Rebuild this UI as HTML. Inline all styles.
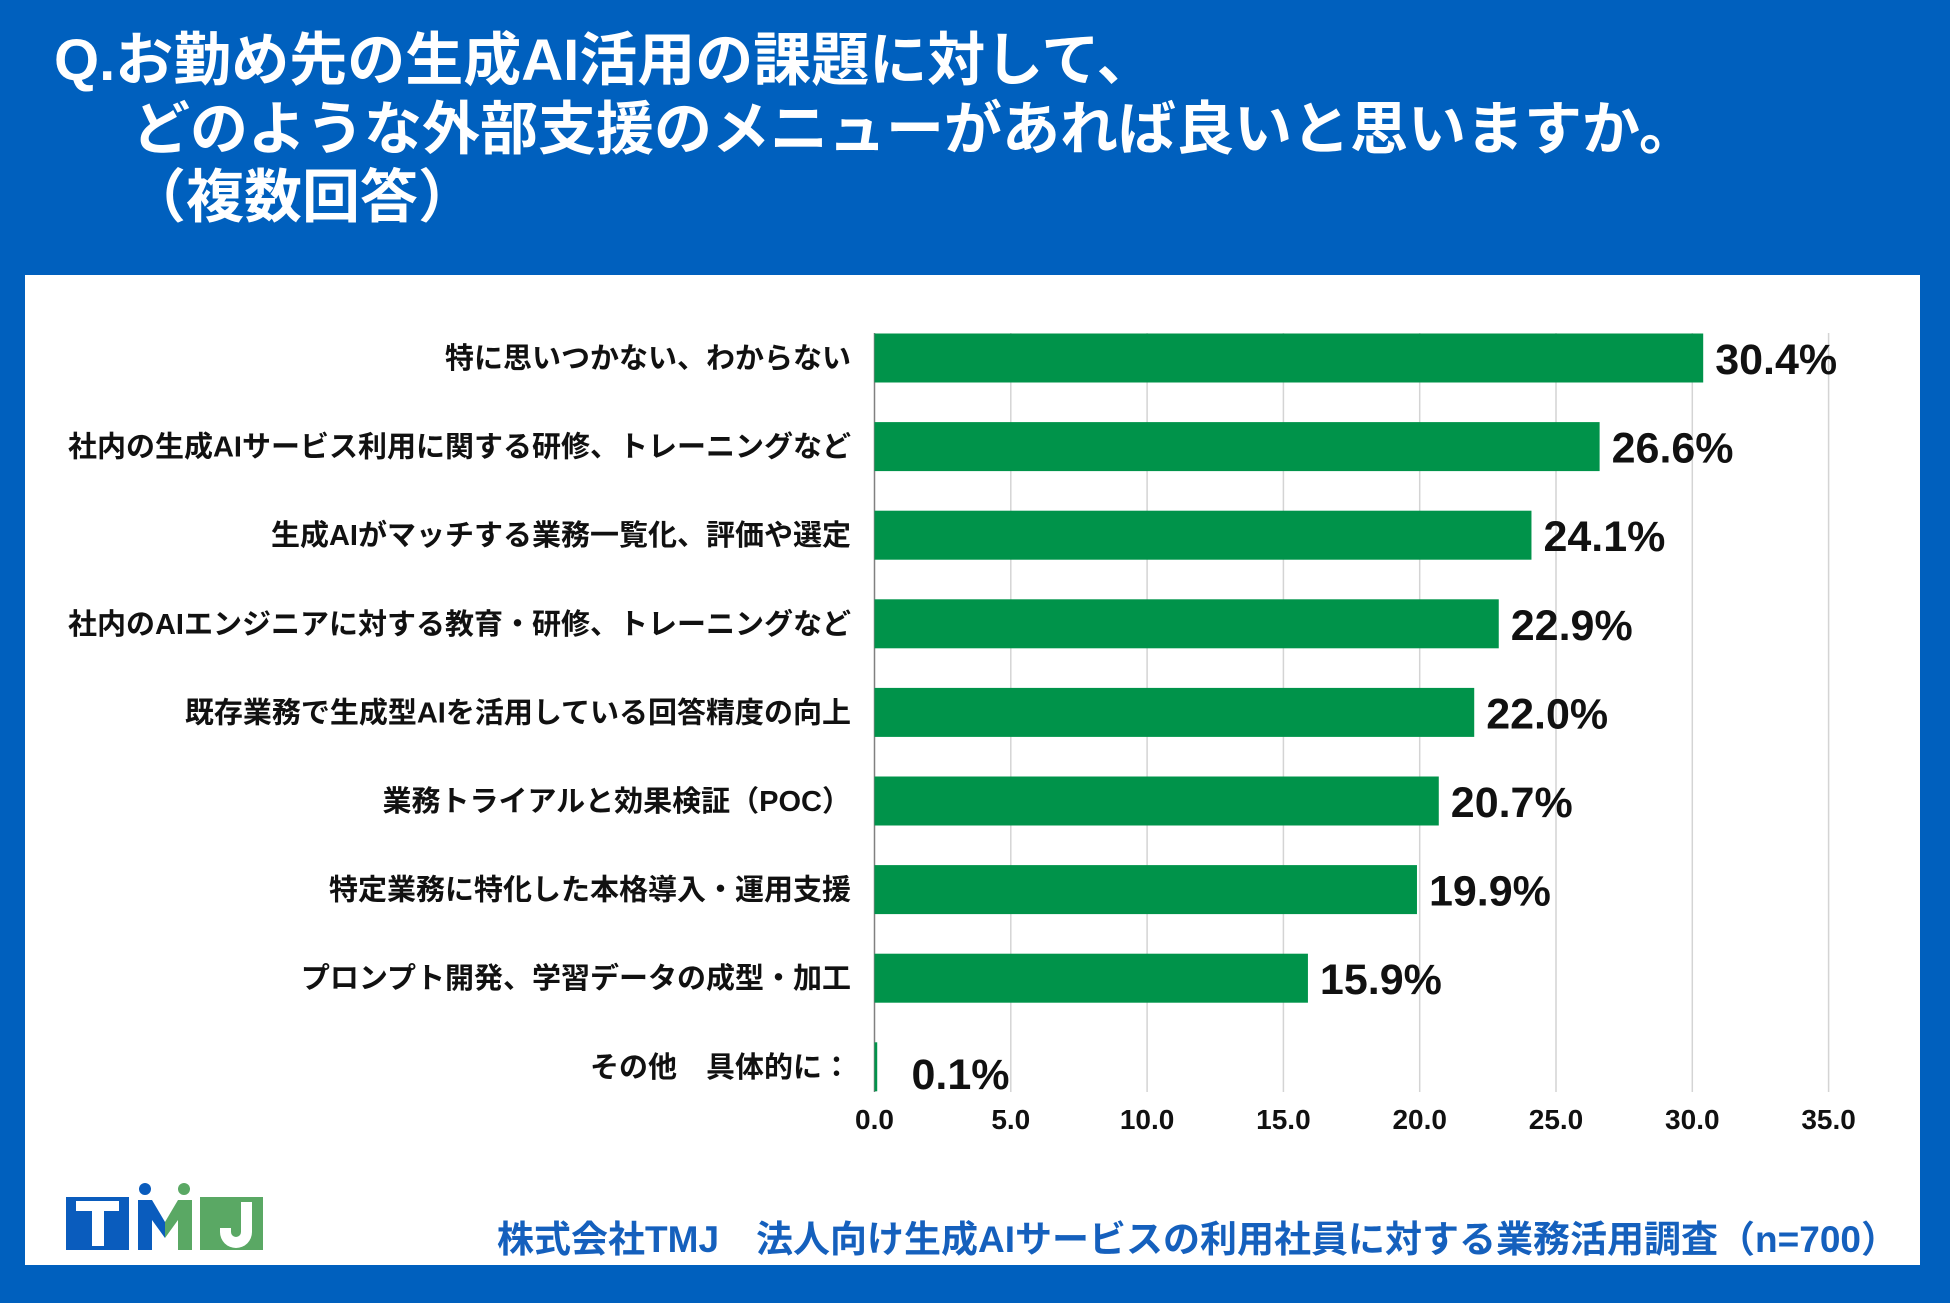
<!DOCTYPE html>
<html><head><meta charset="utf-8">
<style>
body{margin:0;width:1950px;height:1303px;background:#0060be;position:relative;overflow:hidden;font-family:"Liberation Sans","Noto Sans CJK JP",sans-serif;}
.t{position:absolute;color:#fff;font-weight:bold;font-size:58px;white-space:nowrap;line-height:1;}
#panel{position:absolute;left:25px;top:275px;width:1895px;height:990px;background:#fff;}
#foot{position:absolute;right:52px;top:1221px;color:#1560bd;font-weight:bold;font-size:37px;white-space:nowrap;line-height:1;}
</style></head><body>
<div class="t" style="left:54px;top:32px">Q.お勤め先の生成AI活用の課題に対して、</div>
<div class="t" style="left:132px;top:101px">どのような外部支援のメニューがあれば良いと思いますか。</div>
<div class="t" style="left:128px;top:169px">（複数回答）</div>
<div id="panel"></div>
<svg id="chart" width="1950" height="1303" style="position:absolute;left:0;top:0"></svg>
<svg width="210" height="70" style="position:absolute;left:60px;top:1180px">
<rect x="6" y="17" width="63" height="58" fill="#0a5cbd"/>
<rect x="16" y="21" width="43" height="10" fill="#fff"/><rect x="32" y="21" width="12" height="45" fill="#fff"/>
<circle cx="85" cy="9" r="6" fill="#0a5cbd"/><circle cx="124" cy="9" r="6" fill="#5aa864"/>
<polygon points="78,20 92,20 105,42 105,58 92,40 92,75 78,75" fill="#0a5cbd"/>
<polygon points="132,20 118,20 105,42 105,58 118,40 118,75 132,75" fill="#5aa864"/>
<rect x="140" y="17" width="63" height="58" fill="#5aa864"/>
<path d="M181 22 h11 v30 a16 16 0 0 1 -32 0 v-4 h11 v4 a5 5 0 0 0 10 0z" fill="#fff"/>
</svg>
<div id="foot">株式会社TMJ　法人向け生成AIサービスの利用社員に対する業務活用調査（n=700）</div>
<script>
const categories=["特に思いつかない、わからない","社内の生成AIサービス利用に関する研修、トレーニングなど","生成AIがマッチする業務一覧化、評価や選定","社内のAIエンジニアに対する教育・研修、トレーニングなど","既存業務で生成型AIを活用している回答精度の向上","業務トライアルと効果検証（POC）","特定業務に特化した本格導入・運用支援","プロンプト開発、学習データの成型・加工","その他　具体的に："];
const values=[30.4,26.6,24.1,22.9,22.0,20.7,19.9,15.9,0.1];
const ticks=[0,5,10,15,20,25,30,35];
const svgEl=document.getElementById('chart');
const NS='http://www.w3.org/2000/svg';
const x0=874.5,x1=1828.6,xmax=35;
const xs=v=>x0+(x1-x0)*v/xmax;
const yc=i=>358+i*88.6;
const plotTop=313,plotBottom=1092;
function mk(t,a){const e=document.createElementNS(NS,t);for(const k in a)e.setAttribute(k,a[k]);svgEl.appendChild(e);return e;}
ticks.forEach(t=>{
 const g=mk('line',{x1:xs(t),x2:xs(t),y1:plotTop+20,y2:plotBottom,stroke:t===0?'#808080':'#d4d4d4','stroke-width':1.5});
 
 
 const l=mk('text',{x:xs(t),y:1129,'text-anchor':'middle','font-size':28,'font-weight':'bold',fill:'#111','font-family':'Liberation Sans, sans-serif'});
 l.textContent=t.toFixed(1);
 
 
});
categories.forEach((c,i)=>{
 const y=yc(i);
 const b=mk('rect',{x:x0,y:y-24.5,width:Math.max(xs(values[i])-x0,2),height:49,fill:'#00934a'});
 
 
 const cl=mk('text',{x:851,y:y+10,'text-anchor':'end','font-size':29,'font-weight':'bold',fill:'#111','font-family':'Liberation Sans, Noto Sans CJK JP, sans-serif'});
 cl.textContent=c;
 
 
 const vl=mk('text',{x:Math.max(xs(values[i]),x0+25)+12,y:y+(i===8?22:16),'font-size':43,'font-weight':'bold',fill:'#111','font-family':'Liberation Sans, sans-serif'});
 vl.textContent=values[i].toFixed(1)+'%';
 
 
});
</script>
</body></html>
